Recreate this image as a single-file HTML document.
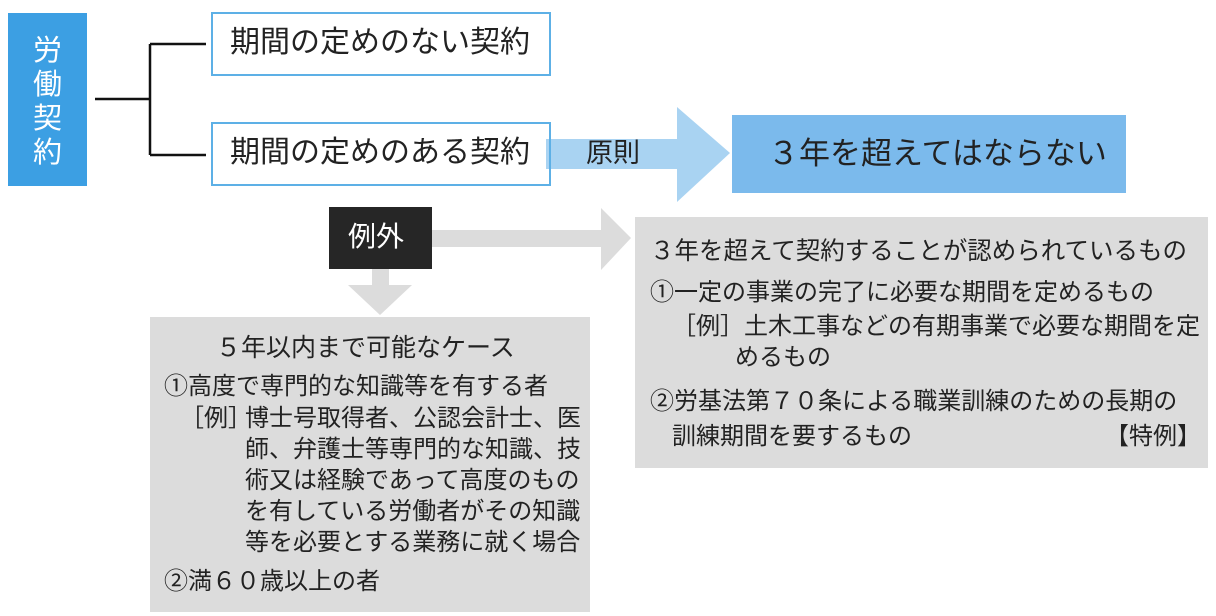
<!DOCTYPE html>
<html><head><meta charset="utf-8"><style>
body{margin:0;width:1216px;height:616px;background:#fff;position:relative;overflow:hidden;font-family:"Liberation Sans","Noto Sans CJK JP",sans-serif;color:#222}
div{position:absolute;box-sizing:border-box}
.t{white-space:nowrap;line-height:1}
</style></head><body>
<div style="left:8px;top:13px;width:79px;height:173px;background:#3c9fe3;color:#fff;font-size:29px;line-height:34px;text-align:center;padding-top:21px">労<br>働<br>契<br>約</div>
<svg style="position:absolute;left:0;top:0" width="1216" height="616">
<path d="M95 99H150M150 44V155M150 44H206M150 155H206" stroke="#111" stroke-width="2.5" fill="none"/>
<rect x="546" y="139" width="132" height="30" fill="#a9d3f2"/>
<polygon points="677,107 730,153 677,202" fill="#a9d3f2"/>
<rect x="432" y="230" width="170" height="17" fill="#dcdcdc"/>
<polygon points="601,208 631,238 601,270" fill="#dcdcdc"/>
<rect x="372" y="269" width="17" height="17" fill="#dcdcdc"/>
<polygon points="348,285 412,285 380,315" fill="#dcdcdc"/>
</svg>
<div style="left:211px;top:12px;width:340px;height:64px;border:2.5px solid #5db0e6;font-size:30px;padding:14px 0 0 17px" class="t">期間の定めのない契約</div>
<div style="left:211px;top:122px;width:340px;height:64px;border:2.5px solid #5db0e6;font-size:30px;padding:14px 0 0 17px" class="t">期間の定めのある契約</div>
<div class="t" style="left:586px;top:140px;font-size:27px">原則</div>
<div class="t" style="left:732px;top:115px;width:394px;height:78px;background:#7bbaec;font-size:31px;padding:23px 0 0 36px">３年を超えてはならない</div>
<div class="t" style="left:329px;top:207px;width:103px;height:62px;background:#262626;color:#fff;font-size:28px;padding:16px 0 0 19px">例外</div>
<div style="left:635px;top:217px;width:573px;height:251px;background:#dcdcdc"></div>
<div class="t" style="left:650px;top:240px;font-size:24.5px">３年を超えて契約することが認められているもの</div>
<div class="t" style="left:650px;top:281px;font-size:24px">①一定の事業の完了に必要な期間を定めるもの</div>
<div class="t" style="left:672px;top:315px;font-size:24px">［例］土木工事などの有期事業で必要な期間を定</div>
<div class="t" style="left:735px;top:346px;font-size:24px">めるもの</div>
<div class="t" style="left:650px;top:390px;font-size:24px">②労基法第７０条による職業訓練のための長期の</div>
<div class="t" style="left:672px;top:425px;font-size:24px">訓練期間を要するもの</div>
<div class="t" style="left:1105px;top:425px;font-size:24px">【特例】</div>
<div style="left:150px;top:317px;width:440px;height:295px;background:#dcdcdc"></div>
<div class="t" style="left:216px;top:336px;font-size:25px">５年以内まで可能なケース</div>
<div class="t" style="left:164px;top:375px;font-size:24px">①高度で専門的な知識等を有する者</div>
<div class="t" style="left:180px;top:407px;font-size:24px">［例］</div>
<div class="t" style="left:245px;top:407px;font-size:24px;line-height:31px;margin-top:-4px">博士号取得者、公認会計士、医<br>師、弁護士等専門的な知識、技<br>術又は経験であって高度のもの<br>を有している労働者がその知識<br>等を必要とする業務に就く場合</div>
<div class="t" style="left:164px;top:570px;font-size:24px">②満６０歳以上の者</div>
</body></html>
